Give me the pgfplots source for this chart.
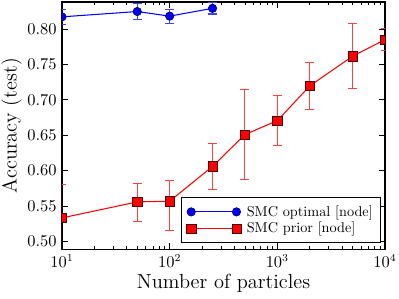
\documentclass[border=0pt]{standalone}
\usepackage{pgfplots}
\pgfplotsset{compat=1.18}
\begin{document}
\begin{tikzpicture}
\begin{axis}[
  scale only axis,
  width=215.3pt, height=164.9pt,
  xmode=log, xmin=10, xmax=10000,
  ymin=0.489, ymax=0.838,
  axis line style={line width=0.9pt},
  tick align=inside,
  major tick length=4pt, minor tick length=2pt,
  every tick/.style={black, line width=0.5pt},
  ytick={0.50,0.55,0.60,0.65,0.70,0.75,0.80},
  yticklabel style={/pgf/number format/.cd, fixed, fixed zerofill, precision=2},
  ticklabel style={font=\fontsize{10.5}{12}\selectfont},
  xlabel={Number of particles}, ylabel={Accuracy (test)},
  label style={font=\fontsize{13.6}{16}\selectfont},
  xlabel style={at={(axis description cs:0.5,-0.1577)}, anchor=base},
  ylabel style={at={(axis description cs:-0.1407,0.5)}, anchor=base},
  clip marker paths=true,
  legend style={at={(0.988,0.024)}, anchor=south east, font=\fontsize{9.5}{11}\selectfont,
    draw=black, line width=0.8pt, row sep=-1.5pt, inner sep=3.2pt},
  legend cell align=left,
  legend image code/.code={\draw[mark repeat=1,#1] plot coordinates {(0cm,0cm) (1.06cm,0cm)}; \path (1.22cm,0cm);},
]
\coordinate (SW) at (rel axis cs:0,0);
\coordinate (NE) at (rel axis cs:1,1);
\addplot+[blue, line width=0.7pt, mark=*, mark size=2.8pt,
  mark options={fill=blue, draw=black!70!blue, line width=0.4pt},
  error bars/.cd, y dir=both, y explicit,
  error bar style={blue!75, line width=0.7pt},
  error mark options={rotate=90, mark size=3pt, blue!75, line width=0.7pt}]
coordinates {
 (10,0.817) +- (0,0.011)
 (50,0.8245) +- (0,0.011)
 (100,0.818) +- (0,0.010)
 (250,0.829) +- (0,0.008)
};
\addlegendentry{SMC optimal [node]}
\addplot+[red, line width=0.7pt, mark=square*, mark size=3.1pt,
  mark options={fill=red, draw=black!70!red, line width=0.4pt},
  error bars/.cd, y dir=both, y explicit,
  error bar style={red!75, line width=0.7pt},
  error mark options={rotate=90, mark size=3pt, red!75, line width=0.7pt}]
coordinates {
 (10,0.5334) +- (0,0.047)
 (50,0.556) += (0,0.0266) -= (0,0.0272)
 (100,0.557) += (0,0.0294) -= (0,0.042)
 (250,0.606) +- (0,0.033)
 (500,0.651) +- (0,0.0635)
 (1000,0.6706) +- (0,0.035)
 (2000,0.7196) +- (0,0.0335)
 (5000,0.7615) +- (0,0.0455)
 (10000,0.7849) +- (0,0.015)
};
\addlegendentry{SMC prior [node]}
\end{axis}
\pgfresetboundingbox
\path[use as bounding box] ([xshift=-41.3pt,yshift=-32.7pt]SW) rectangle ([xshift=9.3pt,yshift=1.3pt]NE);
\end{tikzpicture}
\end{document}
